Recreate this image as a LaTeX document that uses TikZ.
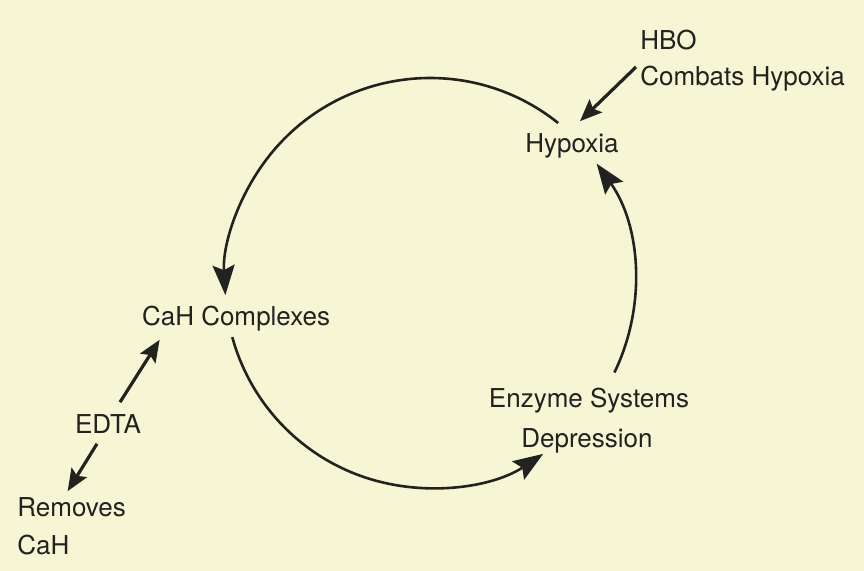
\documentclass[tikz,border=0pt]{standalone}
\usepackage{fontspec}
\setmainfont{TeX Gyre Heros}
\usetikzlibrary{arrows.meta}
\definecolor{paper}{RGB}{246,245,212}
\definecolor{ink}{RGB}{34,34,32}

\begin{document}
\begin{tikzpicture}[x=0.5pt, y=0.5pt,
    word/.style={font=\fontsize{13}{15}\selectfont, text=ink, inner sep=2pt,
                 text height=9.4pt, text depth=0pt},
    loop arrow/.style={draw=ink, line width=1.3pt,
                       -{Stealth[length=15pt, width=11pt, inset=2.5pt]}},
    side arrow/.style={draw=ink, line width=1.6pt,
                       -{Stealth[length=11pt, width=9pt, inset=2pt]}}]
    \useasboundingbox (0, 0) rectangle (864, 571);
    \fill[paper] (0, 0) rectangle (864, 571);
    % the four stations of the cycle
    \node[word] (hypoxia) at (572, 428) {Hypoxia};
    \node[word] (cah) at (236, 255) {CaH Complexes};
    \node[word] (enzyme) at (589, 173) {Enzyme Systems};
    \node[word] (depression) at (587, 133) {Depression};
    % outside agents
    \node[word, anchor=west] (hbo) at (636, 531) {HBO};
    \node[word, anchor=west] (combats) at (636, 495) {Combats Hypoxia};
    \node[word] (edta) at (108, 147) {EDTA};
    \node[word, anchor=west] (removes) at (13, 64) {Removes};
    \node[word, anchor=west] (cahout) at (13, 26) {CaH};
    % the cycle itself
    \coordinate (hub) at (430, 288);
    \draw[loop arrow] ([shift={(51.3:102.5pt)}]hub)
          arc[start angle=51.3, end angle=183.4, radius=102.5pt];
    \draw[loop arrow] ([shift={(195.3:102.5pt)}]hub)
          arc[start angle=195.3, end angle=303.5, radius=102.5pt];
    \draw[loop arrow] ([shift={(334.1:102.5pt)}]hub)
          arc[start angle=334.1, end angle=395.6, radius=102.5pt];
    % short arrows
    \draw[side arrow] ([yshift=4.5pt]combats.west) -- ([xshift=4pt, yshift=4pt]hypoxia.north);
    \draw[side arrow] ([xshift=6pt, yshift=4pt]edta.north) -- ([xshift=11pt, yshift=-5pt]cah.south west);
    \draw[side arrow] ([xshift=-5.5pt, yshift=-3pt]edta.south) -- ([xshift=-2pt, yshift=1pt]removes.north);
\end{tikzpicture}
\end{document}
